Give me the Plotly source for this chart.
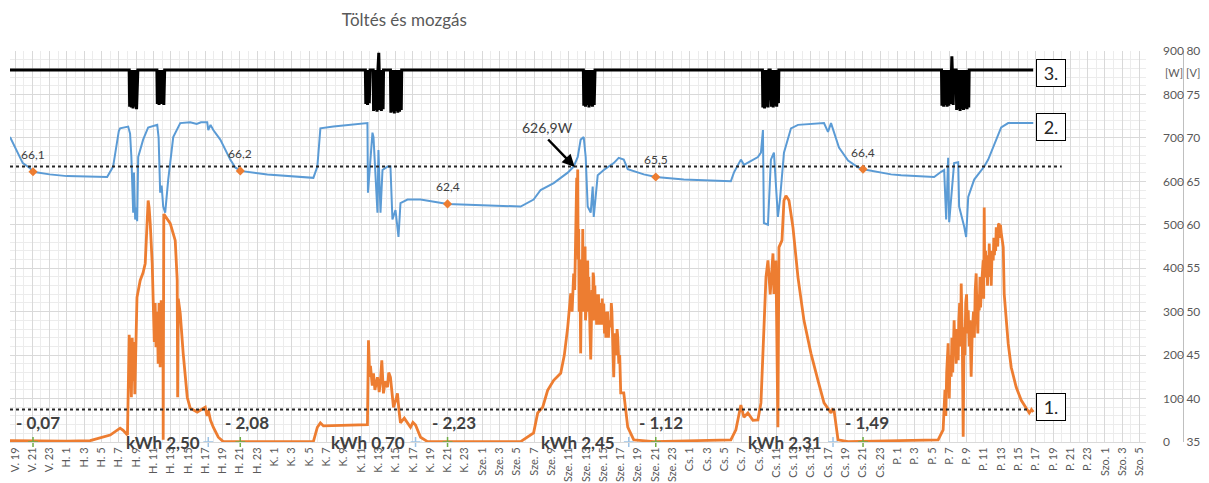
import plotly.graph_objects as go

# ---------------- data (x = hours since "V. 19") ----------------
tick_hours = list(range(0, 131, 2))
tick_labels = (["V. 19", "V. 21", "V. 23"]
               + ["H. %d" % i for i in range(1, 24, 2)]
               + ["K. %d" % i for i in range(1, 24, 2)]
               + ["Sze. %d" % i for i in range(1, 24, 2)]
               + ["Cs. %d" % i for i in range(1, 24, 2)]
               + ["P. %d" % i for i in range(1, 24, 2)]
               + ["Szo. 1", "Szo. 3", "Szo. 5"])

# 1. charging power [W]
power_h = [-0.58, 2, 6, 8.68, 11.0, 12.15, 12.5, 13.0, 13.2, 13.35, 13.45, 13.55, 13.65, 13.75, 13.85, 13.95,
           14.1, 14.47, 14.81, 15.05, 15.28, 15.39, 15.5, 15.63, 15.86, 15.97, 16.1, 16.2, 16.3, 16.44, 16.55,
           16.65, 16.78, 16.9, 17.01, 17.1, 17.13, 17.2, 17.47, 17.94, 18.52, 18.75, 18.8, 18.87, 19.1, 19.44,
           19.91, 20.25, 21.06, 21.99, 22.2, 22.34, 22.6, 22.92, 23.5, 24.07, 24.88,
           34.49, 34.95, 35.3, 35.65, 40.74, 40.86, 41.0, 41.09, 41.3, 41.44, 41.6, 41.9, 42.1, 42.25, 42.4,
           42.59, 42.8, 43.06, 43.2, 43.4, 43.6, 43.75, 44.0, 44.21, 44.4, 44.56, 45.0, 45.72, 46.0, 46.3,
           46.88, 47.69,
           58.45, 59.26, 59.95, 60.42, 61.0, 61.57, 62.27, 63.08, 63.5, 63.89, 64.24, 64.4, 64.58, 64.7,
           64.93, 65.0, 65.05, 65.1, 65.16, 65.22, 65.3, 65.39, 65.45, 65.5, 65.56, 65.63, 65.7, 65.74, 65.8,
           65.85, 65.9, 65.95, 66.0, 66.07, 66.13, 66.2, 66.27, 66.33, 66.4, 66.47, 66.55, 66.62, 66.7, 66.77,
           66.83, 66.9, 66.97, 67.03, 67.1, 67.17, 67.23, 67.3, 67.37, 67.45, 67.52, 67.6, 67.71, 67.8, 67.88,
           67.96, 68.06, 68.14, 68.22, 68.3, 68.4, 68.5, 68.6, 68.7, 68.87, 68.93, 69.0, 69.1, 69.21, 69.3,
           69.4, 69.5, 69.6, 69.68, 69.8, 69.9, 70.02, 70.37, 70.83, 71.53, 73.84,
           82.75, 83.33, 83.91, 84.26, 84.72, 85.3, 85.88, 86.23, 86.81, 87.04, 87.3, 87.62, 87.73, 87.96,
           88.19, 88.31, 88.66, 88.89, 89.12, 89.47, 89.93, 90.51, 91.2, 92.01, 92.82, 93.52, 94.33, 94.5,
           94.68, 95.14, 96.3,
           106.71, 107.29, 107.5, 107.6, 107.7, 107.87, 107.93, 108.0, 108.1, 108.22, 108.3, 108.4, 108.56,
           108.65, 108.72, 108.8, 108.9, 109.03, 109.1, 109.2, 109.3, 109.38, 109.5, 109.61, 109.72, 109.8,
           109.9, 110.0, 110.1, 110.19, 110.3, 110.4, 110.53, 110.65, 110.8, 110.9, 111.0, 111.11, 111.2,
           111.3, 111.38, 111.46, 111.55, 111.62, 111.7, 111.8, 111.92, 111.98, 112.04, 112.1, 112.2, 112.27,
           112.35, 112.42, 112.5, 112.56, 112.62, 112.7, 112.78, 112.85, 112.95, 113.08, 113.15, 113.22,
           113.3, 113.36, 113.43, 113.5, 113.6, 113.68, 113.77, 113.85, 113.92, 114.0, 114.1, 114.24, 114.35,
           114.81, 115.16, 115.74, 116.32, 116.9, 117.25, 117.5, 117.71]
power_w = [3, 2, 2, 3, 16, 32, 27, 16, 247, 180, 103, 240, 140, 230, 110, 200,
           333, 372, 390, 411, 533, 556, 540, 503, 411, 333, 230, 320, 218, 300, 180,
           320, 172, 326, 200, 320, 5, 525, 517, 503, 464, 372, 103, 330, 296, 204,
           103, 78, 69, 80, 60, 73, 50, 34, 11, 1, 1,
           1, 34, 44, 37, 40, 234, 150, 175, 130, 158, 120, 149, 115, 142, 188,
           112, 140, 126, 160, 149, 100, 80, 95, 112, 70, 44, 55, 34, 45, 39,
           11, 1,
           1, 11, 21, 67, 80, 119, 142, 158, 200, 264, 342, 300, 388, 350,
           608, 560, 627, 420, 490, 300, 400, 204, 380, 420, 330, 490, 300, 342, 440,
           330, 450, 280, 300, 410, 320, 418, 300, 380, 340, 250, 190, 330, 350, 280,
           390, 379, 300, 360, 280, 340, 270, 330, 290, 340, 270, 320, 303, 270, 330,
           280, 319, 250, 300, 240, 260, 300, 240, 280, 264, 320, 300, 240, 149, 230,
           250, 200, 260, 241, 180, 200, 113, 113, 34, 5, 1,
           5, 28, 85, 57, 67, 50, 51, 90, 379, 418, 340, 434, 341, 418,
           34, 448, 464, 556, 567, 556, 494, 379, 280, 204, 142, 90, 67, 75,
           73, 5, 1,
           5, 28, 120, 60, 160, 227, 130, 100, 200, 150, 240, 160, 280,
           200, 250, 180, 260, 188, 280, 320, 220, 365, 250, 12, 264, 200,
           320, 340, 250, 303, 220, 280, 150, 250, 300, 240, 350, 388, 300,
           250, 340, 303, 380, 310, 350, 400, 418, 330, 540, 380, 440, 379,
           430, 360, 420, 380, 457, 400, 430, 360, 440, 418, 470, 430,
           470, 440, 494, 460, 450, 500, 503, 470, 500, 482, 460, 448, 341,
           227, 172, 126, 96, 78, 67, 75, 69]

# 2. battery voltage [V]
volt_h = [-0.58, 0.2, 0.9, 1.74, 2.08, 4.0, 6.0, 10.65, 11.34, 12.0, 12.15, 13.08, 13.3, 13.45, 13.54, 13.66,
          13.75, 13.89, 14.0, 14.12, 14.24, 14.81, 15.39, 16.44, 16.6, 16.78, 16.95, 17.13, 17.36, 17.71,
          18.29, 19.10, 20.25, 21.0, 21.5, 22.22, 22.34, 22.6, 22.92, 23.73, 24.88, 25.46, 26.04, 29.17,
          34.49, 34.95, 35.30, 36.81, 40.74, 40.8, 41.32, 41.44, 41.90, 42.01, 42.25, 42.48, 43.06, 43.40,
          43.63, 43.98, 44.33, 44.56, 45.37, 46.88, 50.0, 53.47, 58.45, 59.95, 60.76, 62.27, 63.89, 64.58,
          65.05, 65.39, 65.74, 65.97, 66.20, 66.55, 66.78, 66.90, 67.36, 68.06, 69.21, 69.79, 70.37, 70.83,
          72.69, 74.07, 77.31, 82.75, 83.10, 83.91, 84.26, 85.88, 86.23, 86.46, 86.57, 87.04, 87.38, 87.73,
          88.19, 88.43, 88.89, 89.70, 90.51, 93.52, 93.98, 94.33, 94.68, 95.25, 96.30, 97.45, 98.03,
          101.27, 102.43, 106.25, 107.06, 107.41, 107.64, 107.87, 107.99, 108.56, 109.03, 109.14, 109.72,
          109.95, 110.19, 110.88, 112.04, 112.50, 114.0, 114.81, 117.71]
volt_v = [70.1, 68.6, 67.1, 66.5, 66.1, 65.8, 65.6, 65.5, 66.7, 70.8, 71.1, 71.3, 70.5, 67.8, 64.0, 61.4,
          66.0, 60.6, 62.0, 60.4, 67.8, 69.8, 71.2, 71.5, 70.0, 63.7, 64.5, 62.1, 61.4, 65.2,
          70.1, 71.7, 71.8, 71.6, 71.8, 71.8, 70.9, 71.5, 70.9, 69.8, 67.5, 66.6, 66.2, 65.8,
          65.4, 66.7, 71.1, 71.3, 71.7, 63.7, 70.6, 70.1, 61.4, 68.6, 61.4, 66.3, 66.7, 66.7,
          60.6, 61.7, 58.6, 62.5, 62.9, 62.9, 62.4, 62.3, 62.1, 62.9, 64.0, 64.8, 66.0, 66.7,
          67.8, 69.8, 70.1, 67.8, 62.1, 61.4, 64.4, 60.9, 65.7, 66.3, 67.1, 67.7, 67.5, 66.4,
          65.8, 65.5, 65.2, 65.0, 66.0, 67.5, 66.9, 67.8, 68.3, 70.9, 60.2, 60.0, 67.5, 68.3,
          60.9, 62.9, 68.3, 71.1, 71.5, 71.7, 70.7, 71.7, 70.6, 68.9, 67.4, 66.6, 66.4,
          65.8, 65.7, 65.5, 66.1, 66.3, 60.6, 67.7, 60.3, 67.1, 67.2, 62.1, 59.8,
          58.6, 63.2, 65.2, 66.7, 67.5, 71.2, 71.7, 71.7]

# 3. movement signal (on the [V] scale)
move_h = [-0.58, 13.2, 13.25, 13.35, 13.45, 13.55, 13.65, 13.75, 13.85, 13.95, 14.05, 14.15, 14.2,
          16.4, 16.45, 16.55, 16.65, 16.75, 16.85, 16.95, 17.0, 17.1, 17.2, 17.3,
          40.5, 40.55, 40.65, 40.75, 40.85, 40.95, 41.05,
          41.4, 41.45, 41.55, 41.65, 41.75, 41.85, 41.95, 42.05, 42.1, 42.15, 42.25, 42.35, 42.45, 42.55, 42.6,
          43.4, 43.45, 43.55, 43.65, 43.75, 43.85, 43.95, 44.05, 44.15, 44.25, 44.35, 44.45, 44.55, 44.65, 44.7,
          65.7, 65.75, 65.85, 65.95, 66.05, 66.15, 66.25, 66.35, 66.45, 66.55, 66.65, 66.75, 66.85, 66.95, 67.05,
          86.4, 86.45, 86.55, 86.65, 86.75, 86.85, 86.95, 87.05, 87.15, 87.3, 87.45, 87.55, 87.65, 87.75,
          87.85, 87.95, 88.05, 88.15, 88.25, 88.3,
          107.1, 107.15, 107.25, 107.35, 107.45, 107.55, 107.65, 107.75, 107.85, 107.95, 108.05, 108.15,
          108.25, 108.3, 108.35, 108.45, 108.55,
          108.8, 108.85, 108.95, 109.05, 109.15, 109.25, 109.35, 109.45, 109.55, 109.65, 109.75, 109.85,
          109.95, 110.05, 110.15, 110.25, 110.3, 117.7]
move_v = [77.8, 77.8, 73.6, 77.8, 73.5, 77.8, 73.4, 77.8, 73.6, 77.8, 73.3, 77.8, 77.8,
          77.8, 73.9, 77.8, 73.8, 77.8, 74.0, 77.8, 73.9, 77.8, 73.8, 77.8,
          77.8, 73.9, 77.8, 73.8, 77.8, 74.0, 77.8,
          77.8, 73.1, 77.8, 73.2, 77.8, 73.0, 77.8, 79.8, 77.8, 73.2, 77.8, 73.1, 77.8, 73.3, 77.8,
          77.8, 72.9, 77.8, 73.0, 77.8, 72.8, 77.8, 73.1, 77.8, 72.9, 77.8, 73.0, 77.8, 73.2, 77.8,
          77.8, 73.7, 77.8, 73.6, 77.8, 73.8, 77.8, 73.5, 77.8, 73.7, 77.8, 73.6, 77.8, 73.8, 77.8,
          77.8, 73.5, 77.8, 73.4, 77.8, 73.6, 77.8, 73.5, 77.8, 77.8, 73.6, 77.8, 73.5, 77.8,
          73.7, 77.8, 73.6, 77.8, 74.0, 77.8,
          77.8, 73.7, 77.8, 73.6, 77.8, 73.8, 77.8, 73.6, 77.8, 73.7, 77.8, 73.9,
          77.8, 79.4, 77.8, 73.8, 77.8,
          77.8, 73.2, 77.8, 73.3, 77.8, 73.1, 77.8, 73.3, 77.8, 73.2, 77.8, 73.4,
          77.8, 73.3, 77.8, 73.5, 77.8, 77.8]

# evening voltage readings (21:00 each day)
mark_h = [2.08, 26.04, 50.0, 74.07, 98.03]
mark_v = [66.1, 66.2, 62.4, 65.5, 66.4]
mark_text = ["66,1", "66,2", "62,4", "65,5", "66,4"]

# end-of-charge markers on the zero line
end_h = [22.34, 46.3, 70.95, 94.56]

# reference levels
ref_v_level = 66.7
ref_w_level = 75

# daily energy labels
day_gain_h = [17.1, 40.8, 65.1, 89.0]
day_gain_text = ["kWh 2,50", "kWh 0,70", "kWh 2,45", "kWh 2,31"]
night_loss_h = [2.66, 26.8, 50.75, 74.7, 98.5]
night_loss_text = ["- 0,07", "- 2,08", "- 2,23", "- 1,12", "- 1,49"]

peak_h, peak_w, peak_text = 64.7, 633, "626,9W"

# ---------------- figure ----------------
# (the page body keeps an 8 px margin, so the figure is 1201 x 475)
FONT = "Lato"
X_END = 0.9491      # right edge of the plot area (paper fraction)
V_POS = 0.97995     # position of the [V] axis line

fig = go.Figure()
fig.add_trace(go.Scatter(x=volt_h, y=volt_v, yaxis="y2", mode="lines",
                         line=dict(color="#5b9bd5", width=2), showlegend=False))
fig.add_trace(go.Scatter(x=power_h, y=power_w, mode="lines",
                         line=dict(color="#ed7d31", width=2.8), showlegend=False))
fig.add_trace(go.Scatter(x=move_h, y=move_v, yaxis="y2", mode="lines",
                         line=dict(color="#000000", width=3), showlegend=False))
fig.add_trace(go.Scatter(x=[-0.58, 121.0], y=[ref_v_level, ref_v_level], yaxis="y2", mode="lines",
                         line=dict(color="#262626", width=2, dash="dot"), showlegend=False))
fig.add_trace(go.Scatter(x=[-0.58, 117.1], y=[ref_w_level, ref_w_level], mode="lines",
                         line=dict(color="#262626", width=2, dash="dot"), showlegend=False))
fig.add_trace(go.Scatter(x=mark_h, y=mark_v, yaxis="y2", mode="markers",
                         marker=dict(symbol="diamond", size=7, color="#ed7d31"), showlegend=False))
fig.add_trace(go.Scatter(x=mark_h, y=[0] * len(mark_h), mode="markers", cliponaxis=False,
                         marker=dict(symbol="cross-thin", size=7, line=dict(color="#70ad47", width=1.5)),
                         showlegend=False))
fig.add_trace(go.Scatter(x=end_h, y=[0] * len(end_h), mode="markers", cliponaxis=False,
                         marker=dict(symbol="cross-thin", size=7, line=dict(color="#9dc3e6", width=1.5)),
                         showlegend=False))

ann = []
for h, v, t in zip(mark_h, mark_v, mark_text):
    ann.append(dict(x=h, y=v, yref="y2", xref="x", text=t, showarrow=False, yshift=17,
                    font=dict(family=FONT, size=12, color="#404040")))
for h, t in zip(day_gain_h, day_gain_text):
    ann.append(dict(x=h, y=0, xref="x", yref="y", text="<b>%s</b>" % t, showarrow=False,
                    font=dict(family=FONT, size=17, color="#404040")))
for h, t in zip(night_loss_h, night_loss_text):
    ann.append(dict(x=h, y=46, xref="x", yref="y", text="<b>%s</b>" % t, showarrow=False,
                    font=dict(family=FONT, size=17, color="#404040")))
ann.append(dict(x=peak_h, y=peak_w, xref="x", yref="y", ax=-28, ay=-29, text="", showarrow=True,
                arrowhead=2, arrowsize=1, arrowwidth=2.5, arrowcolor="#000000"))
ann.append(dict(x=61.6, y=723, xref="x", yref="y", text=peak_text, showarrow=False,
                font=dict(family=FONT, size=14, color="#404040")))
for t, w in [("3.", 849), ("2.", 725), ("1.", 81)]:
    ann.append(dict(x=119.8, y=w, xref="x", yref="y", text=t, showarrow=False,
                    bordercolor="#000000", borderwidth=1, bgcolor="#ffffff", borderpad=2,
                    width=24, height=22, font=dict(family=FONT, size=18, color="#262626")))
ann.append(dict(x=X_END, y=850, xref="paper", yref="y", xanchor="left", xshift=17, text="[W]",
                showarrow=False, font=dict(family=FONT, size=11, color="#595959")))
ann.append(dict(x=V_POS, y=77.5, xref="paper", yref="y2", xanchor="left", xshift=1, text="[V]",
                showarrow=False, font=dict(family=FONT, size=11, color="#595959")))

fig.update_layout(
    width=1201, height=475,
    margin=dict(l=2, r=2, t=43, b=41, autoexpand=False),
    paper_bgcolor="#ffffff", plot_bgcolor="#ffffff",
    title=dict(text="Töltés és mozgás", x=0.33, xanchor="center", y=0.975, yanchor="middle",
               font=dict(family=FONT, size=17, color="#595959")),
    font=dict(family=FONT, color="#595959"),
    xaxis=dict(domain=[0, X_END], range=[-0.58, 130.75], tickmode="array",
               tickvals=tick_hours, ticktext=tick_labels, tickangle=-90, ticklabeloverflow="allow",
               tickfont=dict(family=FONT, size=11, color="#595959"),
               showgrid=True, gridcolor="#d9d9d9", gridwidth=1, zeroline=False,
               showline=True, linecolor="#d9d9d9", ticks="", automargin=False,
               minor=dict(tickmode="linear", tick0=1, dtick=2, showgrid=True, gridcolor="#ececec")),
    yaxis=dict(range=[0, 900], side="right", anchor="x", tickmode="array",
               tickvals=[0, 100, 200, 300, 400, 500, 600, 700, 800, 900],
               tickfont=dict(family=FONT, size=12, color="#595959"), ticks="", ticklabelstandoff=16,
               showgrid=True, gridcolor="#d9d9d9", zeroline=False, showline=False, automargin=False,
               minor=dict(tickmode="linear", tick0=0, dtick=20, showgrid=True, gridcolor="#ececec")),
    yaxis2=dict(range=[35, 80], overlaying="y", side="right", anchor="free", position=V_POS,
                tickmode="linear", tick0=35, dtick=5, ticks="inside", ticklen=4, tickcolor="#bfbfbf",
                tickfont=dict(family=FONT, size=12, color="#595959"), showgrid=False, zeroline=False,
                showline=True, linecolor="#bfbfbf", linewidth=1, automargin=False),
    annotations=ann,
)

fig.write_html("out.html")
